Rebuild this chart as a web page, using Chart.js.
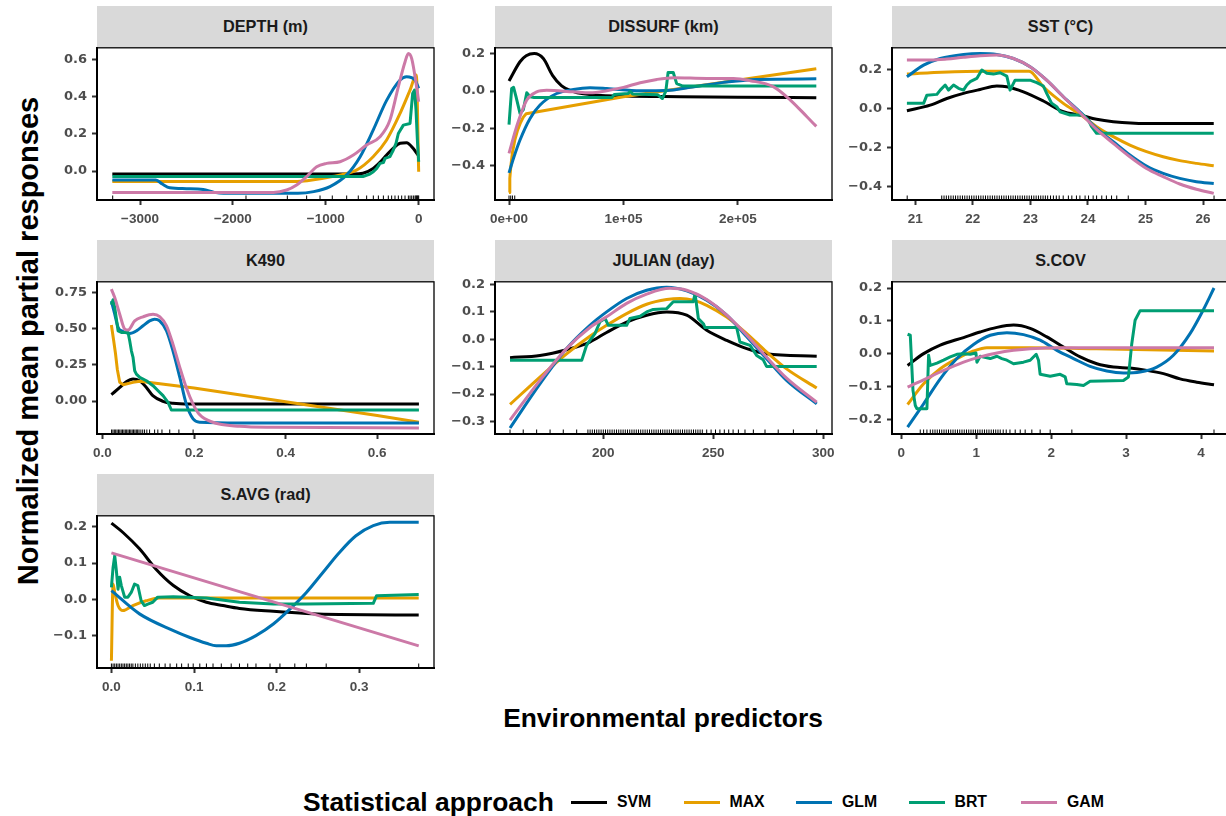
<!DOCTYPE html>
<html>
<head>
<meta charset="utf-8">
<script src="https://cdn.jsdelivr.net/npm/chart.js@4.4.1/dist/chart.umd.min.js"></script>
<style>
  html, body { margin: 0; padding: 0; background: #fff; }
  body {
    width: 1226px; height: 816px; position: relative; overflow: hidden;
    font-family: "Liberation Sans", Arial, sans-serif; font-weight: bold;
  }
  .strip {
    position: absolute; background: #d9d9d9; color: #1a1a1a; font-size: 16.3px;
    display: flex; align-items: center; justify-content: center;
  }
  .panel { position: absolute; }
  .ytitle {
    position: absolute; left: 28px; top: 341px; white-space: nowrap; font-size: 29px;
    transform: translate(-50%, -50%) rotate(-90deg);
  }
  .xtitle {
    position: absolute; left: 663px; top: 718px; white-space: nowrap; font-size: 26.4px;
    transform: translate(-50%, -50%);
  }
  .ltitle { position: absolute; left: 303px; top: 802px; font-size: 26.4px; transform: translateY(-50%); white-space: nowrap; }
  .lkey { position: absolute; top: 800.5px; width: 36px; height: 3px; }
  .llab { position: absolute; top: 802px; font-size: 15.8px; transform: translateY(-50%); }
</style>
</head>
<body>
<div class="ytitle">Normalized mean partial responses</div>
<div class="xtitle">Environmental predictors</div>
<div class="ltitle">Statistical approach</div>
<script>
const seriesNames = ['SVM', 'MAX', 'GLM', 'BRT', 'GAM'];
const seriesColors = ['#000000', '#E69F00', '#0072B2', '#009E73', '#CC79A7'];

// DEPTH (m)
const depthSVM = [[-3298,-0.016],[-700,-0.016],[-600,-0.012],[-490,0.014],[-420,0.045],[-345,0.086],[-275,0.122],[-200,0.149],[-130,0.152],[-60,0.122],[0,0.08]];
const depthMAX = [[-3298,-0.057],[-1420,-0.057],[-1200,-0.052],[-930,-0.03],[-670,0.005],[-490,0.077],[-345,0.167],[-200,0.31],[-93,0.435],[-25,0.516],[0,-0.004]];
const depthGLM = [[-3298,-0.048],[-2830,-0.048],[-2760,-0.07],[-2680,-0.09],[-2500,-0.095],[-2320,-0.1],[-2200,-0.115],[-2100,-0.12],[-1300,-0.12],[-1130,-0.111],[-955,-0.084],[-775,-0.021],[-630,0.077],[-490,0.22],[-345,0.38],[-200,0.49],[-130,0.507],[-40,0.49],[0,0.445]];
const depthBRT = [[-3298,-0.03],[-600,-0.03],[-525,-0.016],[-488,-0.004],[-452,0.014],[-416,0.041],[-380,0.045],[-362,0.068],[-309,0.077],[-273,0.113],[-244,0.149],[-219,0.202],[-165,0.247],[-93,0.256],[-65,0.417],[-45,0.435],[-29,0.33],[-14,0.167],[0,0.05]];
const depthGAM = [[-3298,-0.115],[-1565,-0.115],[-1421,-0.102],[-1314,-0.075],[-1206,-0.03],[-1098,0.023],[-991,0.041],[-847,0.05],[-703,0.086],[-560,0.14],[-416,0.184],[-309,0.274],[-219,0.453],[-147,0.587],[-111,0.632],[-75,0.605],[-22,0.453],[0,0.373]];
const depthRug = [-3294,-1859,-1414,-1206,-1062,-930,-775,-650,-560,-488,-434,-380,-327,-291,-255,-219,-183,-147,-111,-93,-75,-57,-39,-30,-22,-14,-7,0];
const depthXTicks = [-3000, -2000, -1000, 0];
const depthYTicks = [0, 0.2, 0.4, 0.6];

// DISSURF (km)
const dissurfSVM = [[0,0.054],[9600,0.158],[15000,0.19],[22000,0.202],[30000,0.175],[38000,0.085],[46000,0.028],[55000,0.0],[65000,-0.015],[100000,-0.027],[150000,-0.03],[200000,-0.033],[268500,-0.036]];
const dissurfMAX = [[0,-0.546],[700,-0.47],[1500,-0.41],[3000,-0.33],[5000,-0.265],[7500,-0.21],[10000,-0.17],[12500,-0.14],[15000,-0.122],[100000,-0.03],[268500,0.12]];
const dissurfGLM = [[0,-0.44],[4000,-0.36],[9600,-0.263],[18400,-0.147],[27100,-0.075],[41700,-0.013],[56300,0.009],[70800,0.018],[85400,0.014],[114600,0.002],[137900,0.003],[158300,0.02],[187500,0.047],[216600,0.063],[268500,0.066]];
const dissurfBRT = [[0,-0.18],[2300,0.014],[4000,0.02],[6100,-0.03],[9600,-0.12],[12500,-0.1],[15500,-0.009],[18400,-0.03],[22000,-0.034],[90000,-0.034],[92000,-0.018],[104000,-0.013],[106000,-0.002],[108000,-0.015],[130000,-0.02],[134000,-0.04],[137000,0.0],[139000,0.1],[143500,0.1],[146500,0.04],[152000,0.027],[268500,0.027]];
const dissurfGAM = [[0,-0.335],[6700,-0.19],[15500,-0.048],[24200,-0.004],[32900,0.005],[56300,-0.004],[70800,-0.009],[85400,0.002],[100000,0.02],[114600,0.045],[129200,0.063],[143700,0.072],[172900,0.068],[196200,0.068],[210800,0.056],[231200,0.023],[245800,-0.048],[260300,-0.138],[268500,-0.19]];
const dissurfRug = [0, 1500, 3000, 5000];
const dissurfXTicks = [0, 100000, 200000];
const dissurfXLabels = ['0e+00', '1e+05', '2e+05'];
const dissurfYTicks = [-0.4, -0.2, 0, 0.2];

// SST (°C)
const sstSVM = [[20.855,-0.012],[21.26,0.017],[21.549,0.051],[21.838,0.077],[22.127,0.097],[22.416,0.115],[22.59,0.111],[22.879,0.085],[23.225,0.038],[23.572,-0.017],[23.861,-0.034],[24.15,-0.056],[24.439,-0.068],[25.017,-0.077],[26.185,-0.077]];
const sstMAX = [[20.855,0.176],[21.26,0.183],[22.127,0.191],[22.977,0.191],[23.225,0.111],[23.572,0.026],[23.861,-0.03],[24.15,-0.094],[24.439,-0.145],[24.728,-0.188],[25.017,-0.222],[25.306,-0.248],[25.595,-0.268],[25.884,-0.282],[26.185,-0.294]];
const sstGLM = [[20.855,0.162],[21.145,0.222],[21.434,0.256],[21.838,0.277],[22.127,0.282],[22.416,0.277],[22.705,0.256],[22.994,0.214],[23.283,0.145],[23.572,0.06],[23.861,-0.017],[24.15,-0.103],[24.439,-0.171],[24.728,-0.239],[25.017,-0.296],[25.306,-0.333],[25.595,-0.359],[25.884,-0.376],[26.185,-0.385]];
const sstBRT = [[20.855,0.026],[21.145,0.026],[21.202,0.068],[21.376,0.072],[21.434,0.094],[21.52,0.12],[21.578,0.094],[21.665,0.12],[21.751,0.103],[21.838,0.094],[21.896,0.12],[21.954,0.137],[22.069,0.154],[22.156,0.197],[22.243,0.18],[22.358,0.176],[22.474,0.183],[22.59,0.166],[22.647,0.094],[22.734,0.145],[22.994,0.145],[23.11,0.132],[23.225,0.115],[23.283,0.077],[23.37,0.026],[23.457,0.009],[23.514,-0.017],[23.688,-0.034],[23.919,-0.034],[24.006,-0.06],[24.064,-0.094],[24.15,-0.128],[26.185,-0.128]];
const sstGAM = [[20.855,0.248],[21.26,0.248],[21.549,0.253],[21.838,0.262],[22.127,0.27],[22.416,0.274],[22.705,0.256],[22.994,0.214],[23.283,0.145],[23.572,0.06],[23.861,-0.022],[24.15,-0.108],[24.439,-0.179],[24.728,-0.248],[25.017,-0.308],[25.306,-0.35],[25.595,-0.388],[25.884,-0.415],[26.185,-0.436]];
const sstRug = [20.86,21.46,21.5,21.54,21.58,21.62,21.66,21.7,21.74,21.78,21.82,21.86,21.9,21.94,21.98,22.02,22.06,22.1,22.14,22.18,22.22,22.26,22.3,22.34,22.38,22.42,22.46,22.5,22.54,22.58,22.62,22.66,22.7,22.74,22.78,22.82,22.86,22.9,22.94,22.98,23.02,23.06,23.1,23.14,23.18,23.22,23.26,23.3,23.35,23.4,23.45,23.5,23.57,23.66,23.72,23.8,23.86,23.95,24.01,24.09,24.15,24.24,24.32,24.41,24.5,24.7,26.19];
const sstXTicks = [21, 22, 23, 24, 25, 26];
const sstYTicks = [-0.4, -0.2, 0, 0.2];

// K490
const k490SVM = [[0.0196,0.044],[0.038,0.094],[0.052,0.133],[0.067,0.152],[0.081,0.14],[0.096,0.094],[0.11,0.037],[0.132,-0.002],[0.154,-0.016],[0.19,-0.021],[0.691,-0.021]];
const k490MAX = [[0.0196,0.525],[0.0245,0.42],[0.0285,0.33],[0.0325,0.22],[0.0378,0.13],[0.0451,0.113],[0.0669,0.129],[0.0815,0.136],[0.2,0.09],[0.4,-0.005],[0.6,-0.1],[0.691,-0.147]];
const k490GLM = [[0.0196,0.69],[0.0269,0.6],[0.0342,0.51],[0.0451,0.48],[0.0596,0.467],[0.0742,0.485],[0.0887,0.52],[0.103,0.554],[0.114,0.566],[0.125,0.554],[0.14,0.485],[0.154,0.347],[0.169,0.163],[0.183,-0.02],[0.198,-0.124],[0.212,-0.147],[0.3,-0.152],[0.691,-0.152]];
const k490BRT = [[0.0196,0.665],[0.0233,0.7],[0.0269,0.646],[0.0342,0.485],[0.0415,0.474],[0.056,0.474],[0.0596,0.416],[0.0633,0.347],[0.0669,0.301],[0.0705,0.209],[0.0742,0.186],[0.0815,0.163],[0.096,0.14],[0.1105,0.106],[0.1215,0.071],[0.1324,0.037],[0.1433,-0.009],[0.1505,-0.062],[0.691,-0.062]];
const k490GAM = [[0.0196,0.773],[0.0269,0.715],[0.0378,0.6],[0.0487,0.497],[0.056,0.49],[0.0705,0.554],[0.0887,0.582],[0.1105,0.6],[0.125,0.584],[0.14,0.52],[0.154,0.393],[0.169,0.232],[0.183,0.094],[0.198,-0.021],[0.212,-0.094],[0.241,-0.147],[0.3,-0.175],[0.372,-0.182],[0.691,-0.186]];
const k490Rug = [0.02,0.023,0.026,0.029,0.032,0.035,0.038,0.041,0.044,0.047,0.05,0.053,0.056,0.059,0.062,0.065,0.068,0.071,0.074,0.077,0.08,0.084,0.088,0.092,0.097,0.103,0.114,0.121,0.13,0.147,0.167,0.198];
const k490XTicks = [0, 0.2, 0.4, 0.6];
const k490YTicks = [0, 0.25, 0.5, 0.75];

// JULIAN (day)
const julianSVM = [[157.6,-0.067],[171.2,-0.059],[183.3,-0.038],[193.9,-0.01],[201.5,0.025],[210.6,0.063],[219.7,0.088],[228.8,0.1],[237.9,0.088],[247,0.033],[256.1,-0.004],[265.2,-0.034],[274.2,-0.053],[297,-0.062]];
const julianMAX = [[157.6,-0.238],[171.2,-0.138],[183.3,-0.053],[193.9,0.011],[201.5,0.051],[210.6,0.094],[219.7,0.128],[228.8,0.145],[234.8,0.149],[240.9,0.143],[247,0.124],[256.1,0.081],[265.2,0.021],[274.2,-0.046],[283.3,-0.108],[297,-0.178]];
const julianGLM = [[157.6,-0.324],[171.2,-0.163],[183.3,-0.034],[193.9,0.051],[201.5,0.1],[210.6,0.149],[219.7,0.179],[228.8,0.19],[237.9,0.177],[247,0.143],[256.1,0.088],[265.2,0.009],[274.2,-0.071],[283.3,-0.15],[297,-0.236]];
const julianBRT = [[157.6,-0.077],[190.2,-0.077],[192.4,-0.022],[193.9,-0.004],[196.2,0.021],[198.5,0.064],[200.8,0.076],[202.3,0.051],[210.6,0.051],[212.1,0.076],[216.7,0.084],[219.7,0.1],[222.7,0.109],[228.8,0.112],[231.8,0.137],[240.9,0.137],[241.7,0.167],[243.2,0.076],[245.5,0.057],[246.2,0.043],[260.6,0.043],[262.1,-0.01],[266.7,-0.022],[269.7,-0.059],[272.7,-0.075],[274.2,-0.099],[297,-0.099]];
const julianGAM = [[157.6,-0.295],[171.2,-0.15],[183.3,-0.034],[193.9,0.043],[201.5,0.082],[210.6,0.131],[219.7,0.165],[230.3,0.186],[237.9,0.179],[247,0.145],[256.1,0.088],[265.2,0.015],[274.2,-0.065],[283.3,-0.142],[297,-0.23]];
const julianRug = [157.6,163.6,169.7,175.8,181.8,187.9,193,194,195,196,197,198,199,200,201,202,203,204,205,206,207,208,209,210,211,212,213,214,215,216,217,218,219,220,221,222,223,224,225,226,227,228,229,230,231,232,233,234,235,236,237,238,239,240,241,242,243,244,245,247,249,251,253,255,257,259,261.4,264.4,268.2,273.5,279.5,286.4,297];
const julianXTicks = [200, 250, 300];
const julianYTicks = [-0.3, -0.2, -0.1, 0, 0.1, 0.2];

// S.COV
const scovSVM = [[0.084,-0.036],[0.298,0.0],[0.52,0.026],[0.831,0.049],[1.053,0.066],[1.276,0.08],[1.498,0.087],[1.72,0.077],[1.942,0.051],[2.164,0.02],[2.387,-0.01],[2.609,-0.031],[2.831,-0.041],[3.053,-0.044],[3.276,-0.051],[3.498,-0.061],[3.72,-0.077],[3.942,-0.087],[4.173,-0.095]];
const scovMAX = [[0.084,-0.155],[0.298,-0.092],[0.52,-0.046],[0.742,-0.015],[0.964,0.008],[1.142,0.018],[1.72,0.018],[2.609,0.015],[4.173,0.008]];
const scovGLM = [[0.084,-0.224],[0.298,-0.153],[0.52,-0.077],[0.742,-0.015],[0.964,0.028],[1.187,0.056],[1.409,0.064],[1.631,0.058],[1.853,0.041],[2.076,0.01],[2.298,-0.015],[2.52,-0.039],[2.742,-0.053],[2.964,-0.059],[3.187,-0.056],[3.409,-0.041],[3.631,-0.005],[3.853,0.061],[4.031,0.134],[4.173,0.2]];
const scovBRT = [[0.084,0.059],[0.12,0.056],[0.156,-0.112],[0.187,-0.158],[0.209,-0.168],[0.342,-0.168],[0.364,-0.005],[0.387,-0.036],[0.476,-0.029],[0.564,-0.02],[0.653,-0.01],[0.742,-0.002],[0.831,0.0],[0.92,-0.002],[0.996,0.002],[1.009,-0.026],[1.053,-0.008],[1.187,-0.015],[1.276,-0.008],[1.342,-0.015],[1.409,-0.02],[1.498,-0.031],[1.631,-0.026],[1.72,-0.02],[1.8,-0.002],[1.831,-0.02],[1.853,-0.063],[1.987,-0.069],[2.12,-0.063],[2.187,-0.071],[2.209,-0.092],[2.342,-0.094],[2.431,-0.097],[2.52,-0.084],[2.964,-0.082],[3.031,-0.071],[3.076,0.031],[3.12,0.102],[3.187,0.131],[4.173,0.131]];
const scovGAM = [[0.084,-0.102],[0.298,-0.08],[0.52,-0.056],[0.831,-0.026],[1.053,-0.01],[1.276,0.002],[1.498,0.01],[1.72,0.015],[2.164,0.018],[4.173,0.018]];
const scovRug = [0.253,0.298,0.342,0.387,0.42,0.45,0.48,0.51,0.54,0.57,0.6,0.63,0.66,0.69,0.72,0.75,0.78,0.81,0.84,0.87,0.9,0.93,0.96,0.99,1.02,1.05,1.08,1.11,1.14,1.17,1.2,1.23,1.26,1.29,1.32,1.36,1.4,1.45,1.52,1.587,1.653,1.742,1.853,1.987,2.276,4.173];
const scovXTicks = [0, 1, 2, 3, 4];
const scovYTicks = [-0.2, -0.1, 0, 0.1, 0.2];

// S.AVG (rad)
const savgSVM = [[0,0.21],[0.014,0.184],[0.034,0.139],[0.054,0.083],[0.075,0.038],[0.095,0.01],[0.115,-0.008],[0.135,-0.017],[0.155,-0.025],[0.196,-0.033],[0.236,-0.039],[0.276,-0.042],[0.372,-0.043]];
const savgMAX = [[0,-0.169],[0.002,0.042],[0.004,0.019],[0.008,-0.017],[0.014,-0.031],[0.026,-0.017],[0.042,-0.004],[0.058,0.004],[0.372,0.004]];
const savgGLM = [[0,0.024],[0.034,-0.04],[0.075,-0.086],[0.095,-0.105],[0.115,-0.121],[0.127,-0.128],[0.139,-0.128],[0.155,-0.121],[0.175,-0.1],[0.196,-0.068],[0.216,-0.027],[0.236,0.019],[0.256,0.074],[0.276,0.129],[0.296,0.175],[0.317,0.203],[0.337,0.212],[0.372,0.212]];
const savgBRT = [[0,0.033],[0.002,0.088],[0.004,0.12],[0.006,0.079],[0.008,0.028],[0.01,0.061],[0.012,0.038],[0.016,0.006],[0.02,0.006],[0.024,0.019],[0.028,0.042],[0.032,0.038],[0.036,-0.004],[0.04,-0.017],[0.044,-0.013],[0.05,-0.008],[0.056,0.006],[0.075,0.007],[0.115,0.004],[0.155,-0.008],[0.196,-0.013],[0.236,-0.013],[0.317,-0.011],[0.321,0.01],[0.372,0.013]];
const savgGAM = [[0,0.128],[0.372,-0.128]];
const savgRug = [0,0.002,0.004,0.006,0.008,0.01,0.012,0.014,0.016,0.018,0.02,0.022,0.024,0.026,0.029,0.032,0.035,0.038,0.041,0.044,0.047,0.052,0.058,0.065,0.071,0.079,0.085,0.093,0.099,0.107,0.115,0.123,0.133,0.145,0.155,0.165,0.175,0.192,0.204,0.222,0.236,0.26,0.372];
const savgXTicks = [0, 0.1, 0.2, 0.3];
const savgYTicks = [-0.1, 0, 0.1, 0.2];

// layout (px)
const colLeft = [97, 495, 892];
const rowTop = [47, 281, 515];
const panelW = 337, panelH = 153, stripH = 41;
const AXIS_W = 60, XAXIS_H = 36, PAD_T = 12, PAD_R = 24;
const X_FONT = '"Liberation Sans", Arial, sans-serif';
const Y_FONT = '"DejaVu Sans", sans-serif';

const minus = s => s.replace('-', '\u2212');
const fixed = d => v => minus(Number(v).toFixed(d));

const panels = [
  { title: 'DEPTH (m)', col: 0, row: 0, series: [depthSVM, depthMAX, depthGLM, depthBRT, depthGAM], rug: depthRug,
    xMin: -3463, xMax: 165, xTicks: depthXTicks, xFmt: v => minus(String(v)),
    yMin: -0.156, yMax: 0.663, yTicks: depthYTicks, yFmt: fixed(1), straight: [3] },
  { title: 'DISSURF (km)', col: 1, row: 0, series: [dissurfSVM, dissurfMAX, dissurfGLM, dissurfBRT, dissurfGAM], rug: dissurfRug,
    xMin: -12243, xMax: 282200, xTicks: dissurfXTicks, xFmt: v => dissurfXLabels[dissurfXTicks.indexOf(v)],
    yMin: -0.586, yMax: 0.233, yTicks: dissurfYTicks, yFmt: fixed(1), straight: [1, 3] },
  { title: 'SST (\u00B0C)', col: 2, row: 0, series: [sstSVM, sstMAX, sstGLM, sstBRT, sstGAM], rug: sstRug,
    xMin: 20.596, xMax: 26.45, xTicks: sstXTicks, xFmt: v => String(v),
    yMin: -0.47, yMax: 0.311, yTicks: sstYTicks, yFmt: fixed(1), straight: [3] },
  { title: 'K490', col: 0, row: 1, series: [k490SVM, k490MAX, k490GLM, k490BRT, k490GAM], rug: k490Rug,
    xMin: -0.0118, xMax: 0.7239, xTicks: k490XTicks, xFmt: fixed(1),
    yMin: -0.228, yMax: 0.824, yTicks: k490YTicks, yFmt: fixed(2), straight: [1, 3] },
  { title: 'JULIAN (day)', col: 1, row: 1, series: [julianSVM, julianMAX, julianGLM, julianBRT, julianGAM], rug: julianRug,
    xMin: 150.77, xMax: 303.95, xTicks: julianXTicks, xFmt: v => String(v),
    yMin: -0.346, yMax: 0.21, yTicks: julianYTicks, yFmt: fixed(1), straight: [3] },
  { title: 'S.COV', col: 2, row: 1, series: [scovSVM, scovMAX, scovGLM, scovBRT, scovGAM], rug: scovRug,
    xMin: -0.124, xMax: 4.373, xTicks: scovXTicks, xFmt: v => String(v),
    yMin: -0.245, yMax: 0.219, yTicks: scovYTicks, yFmt: fixed(1), straight: [3] },
  { title: 'S.AVG (rad)', col: 0, row: 2, series: [savgSVM, savgMAX, savgGLM, savgBRT, savgGAM], rug: savgRug,
    xMin: -0.01745, xMax: 0.3905, xTicks: savgXTicks, xFmt: fixed(1),
    yMin: -0.189, yMax: 0.23, yTicks: savgYTicks, yFmt: fixed(1), straight: [3] }
];

// black frame round each panel
const framePlugin = {
  id: 'frame',
  afterDraw(chart) {
    const { ctx, chartArea: a } = chart;
    ctx.save();
    ctx.strokeStyle = '#000';
    ctx.lineWidth = 1.3;
    ctx.strokeRect(a.left, a.top, a.right - a.left, a.bottom - a.top);
    ctx.restore();
  }
};

function axis(min, max, ticks, fmt, isX) {
  return {
    type: 'linear',
    min: min, max: max,
    afterBuildTicks: s => { s.ticks = ticks.map(v => ({ value: v })); },
    afterFit: s => { if (isX) s.height = XAXIS_H; else s.width = AXIS_W; },
    ticks: {
      callback: v => fmt(v),
      color: '#4d4d4d',
      font: isX ? { family: X_FONT, size: 13.5, weight: 'bold' } : { family: Y_FONT, size: 13, weight: 'bold' },
      padding: isX ? 6 : 5,
      maxRotation: 0,
      autoSkip: false
    },
    grid: { display: true, drawOnChartArea: false, drawTicks: true, tickLength: 5, tickWidth: 2, tickColor: '#333333' },
    border: { display: true, color: '#000', width: 2 }
  };
}

panels.forEach(p => {
  const left = colLeft[p.col], top = rowTop[p.row];

  const strip = document.createElement('div');
  strip.className = 'strip';
  strip.style.left = left + 'px';
  strip.style.top = (top - stripH) + 'px';
  strip.style.width = panelW + 'px';
  strip.style.height = stripH + 'px';
  strip.textContent = p.title;
  document.body.appendChild(strip);

  const wrap = document.createElement('div');
  wrap.className = 'panel';
  wrap.style.left = (left - AXIS_W) + 'px';
  wrap.style.top = (top - PAD_T) + 'px';
  const canvas = document.createElement('canvas');
  canvas.width = AXIS_W + panelW + PAD_R;
  canvas.height = PAD_T + panelH + XAXIS_H;
  wrap.appendChild(canvas);
  document.body.appendChild(wrap);

  const datasets = [{
    type: 'scatter',
    data: p.rug.map(v => ({ x: v, y: p.yMin })),
    pointStyle: 'line', rotation: 90, pointRadius: 4.5,
    pointBorderColor: '#000', pointBorderWidth: 1,
    clip: 0
  }];
  // later series are drawn on top, so push them first
  for (let i = seriesNames.length - 1; i >= 0; i--) {
    const straight = p.straight.includes(i);
    datasets.push({
      type: 'line',
      label: seriesNames[i],
      data: p.series[i].map(d => ({ x: d[0], y: d[1] })),
      borderColor: seriesColors[i],
      borderWidth: 3,
      pointRadius: 0,
      fill: false,
      tension: straight ? 0 : 0.4,
      cubicInterpolationMode: straight ? 'default' : 'monotone',
      borderJoinStyle: 'round',
      clip: 0
    });
  }

  new Chart(canvas, {
    data: { datasets: datasets },
    options: {
      responsive: false,
      animation: false,
      events: [],
      layout: { padding: { left: 0, top: PAD_T, right: PAD_R, bottom: 0 }, autoPadding: false },
      plugins: { legend: { display: false }, tooltip: { enabled: false } },
      scales: {
        x: axis(p.xMin, p.xMax, p.xTicks, p.xFmt, true),
        y: axis(p.yMin, p.yMax, p.yTicks, p.yFmt, false)
      }
    },
    plugins: [framePlugin]
  });
});

// legend
const keyLeft = 571, keyStep = 112.5;
seriesNames.forEach((name, i) => {
  const key = document.createElement('div');
  key.className = 'lkey';
  key.style.left = (keyLeft + i * keyStep) + 'px';
  key.style.background = seriesColors[i];
  document.body.appendChild(key);
  const lab = document.createElement('div');
  lab.className = 'llab';
  lab.style.left = (keyLeft + i * keyStep + 46) + 'px';
  lab.textContent = name;
  document.body.appendChild(lab);
});
</script>
</body>
</html>
